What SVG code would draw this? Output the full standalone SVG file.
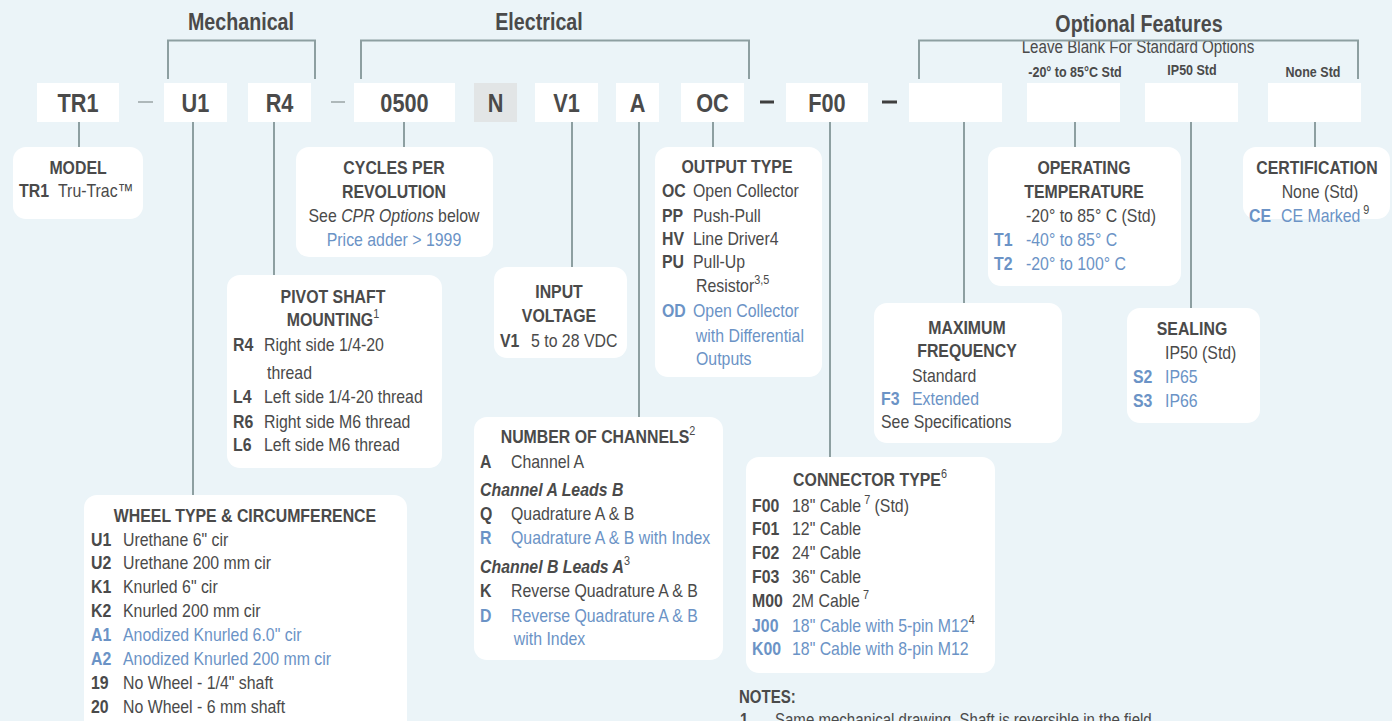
<svg xmlns="http://www.w3.org/2000/svg" width="1392" height="721" viewBox="0 0 1392 721">
<style>
text{font-family:"Liberation Sans",Arial,sans-serif;font-size:19px;fill:#4a4a4a;transform-box:fill-box;transform-origin:0% 50%;transform:scaleX(0.835)}
.b{font-weight:bold}
.m{text-anchor:middle;transform-origin:50% 50%}
.bl{fill:#6b93c6}
.i{font-style:italic}
.h{font-size:24px;font-weight:bold;transform:scaleX(0.82)}
.c{font-size:26px;font-weight:bold;text-anchor:middle;transform-origin:50% 50%}
.sm{font-size:15px;font-weight:bold;text-anchor:middle;transform-origin:50% 50%}
.sup{font-size:13px}
.code{fill:#fff}
.nd{fill:#fff}
.ln{stroke:#8d9fa1;stroke-width:2;fill:none}
</style>
<rect width="1392" height="721" fill="#ebf4f8"/>

<g id="headers">
<text class="h m" x="241" y="30">Mechanical</text>
<text class="h m" x="539" y="30">Electrical</text>
<text class="h m" x="1139" y="32">Optional Features</text>
<text class="m" x="1138" y="53" style="font-size:18.5px;transform:scaleX(0.82)">Leave Blank For Standard Options</text>
<text class="sm" x="1075" y="77">-20° to 85°C Std</text>
<text class="sm" x="1192" y="75">IP50 Std</text>
<text class="sm" x="1313" y="77">None Std</text>
</g>

<g id="connectors">
<path class="ln" d="M168,79 V40.5 H315 V79"/>
<path class="ln" d="M361,79 V40.5 H749 V79"/>
<path class="ln" d="M919,79 V40.5 H1358 V79"/>
<path class="ln" d="M79,122 V147"/>
<path class="ln" d="M193,122 V495"/>
<path class="ln" d="M274,122 V275"/>
<path class="ln" d="M404,122 V147"/>
<path class="ln" d="M572,122 V267"/>
<path class="ln" d="M639,122 V417"/>
<path class="ln" d="M713,122 V147"/>
<path class="ln" d="M830,122 V457"/>
<path class="ln" d="M964,122 V303"/>
<path class="ln" d="M1075,122 V147"/>
<path class="ln" d="M1191,122 V308"/>
<path class="ln" d="M1315,122 V147"/>
<line x1="138" y1="102" x2="153" y2="102" stroke="#aeb8ba" stroke-width="2"/>
<line x1="331" y1="102" x2="345" y2="102" stroke="#aeb8ba" stroke-width="2"/>
<line x1="760" y1="102" x2="774" y2="102" stroke="#3f3f3f" stroke-width="3"/>
<line x1="882" y1="102" x2="897" y2="102" stroke="#3f3f3f" stroke-width="3"/>
</g>

<g id="code-row">
<g id="code-TR1"><rect class="code" x="37" y="83" width="82" height="39"/><text class="c" x="78" y="112">TR1</text></g>
<g id="code-U1"><rect class="code" x="164" y="83" width="63" height="39"/><text class="c" x="195.5" y="112">U1</text></g>
<g id="code-R4"><rect class="code" x="248" y="83" width="63" height="39"/><text class="c" x="279.5" y="112">R4</text></g>
<g id="code-0500"><rect class="code" x="354" y="83" width="101" height="39"/><text class="c" x="404.5" y="112">0500</text></g>
<g id="code-N"><rect x="474" y="83" width="43" height="39" fill="#e2e5e6"/><text class="c" x="495.5" y="112">N</text></g>
<g id="code-V1"><rect class="code" x="535" y="83" width="63" height="39"/><text class="c" x="566.5" y="112">V1</text></g>
<g id="code-A"><rect class="code" x="616" y="83" width="43" height="39"/><text class="c" x="637.5" y="112">A</text></g>
<g id="code-OC"><rect class="code" x="681" y="83" width="63" height="39"/><text class="c" x="712.5" y="112">OC</text></g>
<g id="code-F00"><rect class="code" x="786" y="83" width="82" height="39"/><text class="c" x="827" y="112">F00</text></g>
<g id="code-blank1"><rect class="code" x="909" y="83" width="93" height="39"/></g>
<g id="code-blank2"><rect class="code" x="1027" y="83" width="93" height="39"/></g>
<g id="code-blank3"><rect class="code" x="1145" y="83" width="93" height="39"/></g>
<g id="code-blank4"><rect class="code" x="1268" y="83" width="93" height="39"/></g>
</g>

<g id="node-model">
<rect class="nd" x="13" y="147" width="130" height="72" rx="13"/>
<text class="b m" x="78" y="174">MODEL</text>
<text class="b" x="19" y="197">TR1</text><text x="58" y="197">Tru-Trac™</text>
</g>

<g id="node-cpr">
<rect class="nd" x="296" y="147" width="197" height="110" rx="13"/>
<text class="b m" x="394" y="174">CYCLES PER</text>
<text class="b m" x="394" y="198">REVOLUTION</text>
<text class="m" x="394" y="222">See <tspan class="i">CPR Options</tspan> below</text>
<text class="m bl" x="394" y="246">Price adder &gt; 1999</text>
</g>

<g id="node-pivot">
<rect class="nd" x="227" y="275" width="215" height="193" rx="13"/>
<text class="b m" x="333" y="303">PIVOT SHAFT</text>
<text class="b m" x="333" y="326">MOUNTING<tspan class="sup" dy="-8" style="font-weight:normal">1</tspan></text>
<text class="b" x="233" y="351">R4</text><text x="264" y="351">Right side 1/4-20</text>
<text x="267" y="379">thread</text>
<text class="b" x="233" y="403">L4</text><text x="264" y="403">Left side 1/4-20 thread</text>
<text class="b" x="233" y="428">R6</text><text x="264" y="428">Right side M6 thread</text>
<text class="b" x="233" y="451">L6</text><text x="264" y="451">Left side M6 thread</text>
</g>

<g id="node-input">
<rect class="nd" x="494" y="267" width="133" height="91" rx="13"/>
<text class="b m" x="559" y="298">INPUT</text>
<text class="b m" x="559" y="322">VOLTAGE</text>
<text class="b" x="500" y="347">V1</text><text x="531" y="347">5 to 28 VDC</text>
</g>

<g id="node-output">
<rect class="nd" x="655" y="147" width="167" height="230" rx="13"/>
<text class="b m" x="737" y="173">OUTPUT TYPE</text>
<text class="b" x="662" y="197">OC</text><text x="693" y="197">Open Collector</text>
<text class="b" x="662" y="222">PP</text><text x="693" y="222">Push-Pull</text>
<text class="b" x="662" y="245">HV</text><text x="693" y="245">Line Driver4</text>
<text class="b" x="662" y="268">PU</text><text x="693" y="268">Pull-Up</text>
<text x="696" y="292">Resistor<tspan class="sup" dy="-8">3,5</tspan></text>
<text class="b bl" x="662" y="317">OD</text><text class="bl" x="693" y="317">Open Collector</text>
<text class="bl" x="696" y="342">with Differential</text>
<text class="bl" x="696" y="365">Outputs</text>
</g>

<g id="node-channels">
<rect class="nd" x="474" y="417" width="249" height="243" rx="13"/>
<text class="b m" x="598" y="443">NUMBER OF CHANNELS<tspan class="sup" dy="-8" style="font-weight:normal">2</tspan></text>
<text class="b" x="480" y="468">A</text><text x="511" y="468">Channel A</text>
<text class="b i" x="480" y="496">Channel A Leads B</text>
<text class="b" x="480" y="520">Q</text><text x="511" y="520">Quadrature A &amp; B</text>
<text class="b bl" x="480" y="544">R</text><text class="bl" x="511" y="544">Quadrature A &amp; B with Index</text>
<text class="b i" x="480" y="573">Channel B Leads A<tspan class="sup" dy="-8" style="font-weight:normal;font-style:normal">3</tspan></text>
<text class="b" x="480" y="597">K</text><text x="511" y="597">Reverse Quadrature A &amp; B</text>
<text class="b bl" x="480" y="622">D</text><text class="bl" x="511" y="622">Reverse Quadrature A &amp; B</text>
<text class="bl" x="514" y="645">with Index</text>
</g>

<g id="node-connector">
<rect class="nd" x="746" y="457" width="249" height="216" rx="13"/>
<text class="b m" x="870" y="486">CONNECTOR TYPE<tspan class="sup" dy="-8" style="font-weight:normal">6</tspan></text>
<text class="b" x="752" y="512">F00</text><text x="792" y="512">18" Cable<tspan class="sup" dy="-8"> 7</tspan><tspan dy="8">  (Std)</tspan></text>
<text class="b" x="752" y="535">F01</text><text x="792" y="535">12" Cable</text>
<text class="b" x="752" y="559">F02</text><text x="792" y="559">24" Cable</text>
<text class="b" x="752" y="583">F03</text><text x="792" y="583">36" Cable</text>
<text class="b" x="752" y="607">M00</text><text x="792" y="607">2M Cable<tspan class="sup" dy="-8"> 7</tspan></text>
<text class="b bl" x="752" y="632">J00</text><text class="bl" x="792" y="632">18" Cable with 5-pin M12<tspan class="sup" dy="-8" style="fill:#4a4a4a">4</tspan></text>
<text class="b bl" x="752" y="655">K00</text><text class="bl" x="792" y="655">18" Cable with 8-pin M12</text>
</g>

<g id="notes">
<text class="b" x="739" y="703" style="font-size:18px">NOTES:</text>
<text class="b" x="740" y="726" style="font-size:18px">1</text>
<text x="775" y="726" style="font-size:18px">Same mechanical drawing. Shaft is reversible in the field.</text>
</g>

<g id="node-frequency">
<rect class="nd" x="874" y="303" width="188" height="140" rx="13"/>
<text class="b m" x="967" y="334">MAXIMUM</text>
<text class="b m" x="967" y="357">FREQUENCY</text>
<text x="912" y="382">Standard</text>
<text class="b bl" x="881" y="405">F3</text><text class="bl" x="912" y="405">Extended</text>
<text x="881" y="428">See Specifications</text>
</g>

<g id="node-temperature">
<rect class="nd" x="988" y="147" width="193" height="139" rx="13"/>
<text class="b m" x="1084" y="174">OPERATING</text>
<text class="b m" x="1084" y="198">TEMPERATURE</text>
<text x="1026" y="222">-20° to 85° C (Std)</text>
<text class="b bl" x="994" y="246">T1</text><text class="bl" x="1026" y="246">-40° to 85° C</text>
<text class="b bl" x="994" y="270">T2</text><text class="bl" x="1026" y="270">-20° to 100° C</text>
</g>

<g id="node-sealing">
<rect class="nd" x="1127" y="308" width="133" height="115" rx="13"/>
<text class="b m" x="1192" y="335">SEALING</text>
<text x="1165" y="359">IP50 (Std)</text>
<text class="b bl" x="1133" y="383">S2</text><text class="bl" x="1165" y="383">IP65</text>
<text class="b bl" x="1133" y="407">S3</text><text class="bl" x="1165" y="407">IP66</text>
</g>

<g id="node-certification">
<rect class="nd" x="1243" y="147" width="147" height="72" rx="13"/>
<text class="b m" x="1317" y="174">CERTIFICATION</text>
<text class="m" x="1320" y="198">None (Std)</text>
<text class="b bl" x="1249" y="222">CE</text><text class="bl" x="1281" y="222">CE Marked<tspan class="sup" dy="-8" style="fill:#4a4a4a"> 9</tspan></text>
</g>

<g id="node-wheel">
<rect class="nd" x="84" y="495" width="323" height="250" rx="13"/>
<text class="b m" x="245" y="522">WHEEL TYPE &amp; CIRCUMFERENCE</text>
<text class="b" x="91" y="546">U1</text><text x="123" y="546">Urethane 6" cir</text>
<text class="b" x="91" y="569">U2</text><text x="123" y="569">Urethane 200 mm cir</text>
<text class="b" x="91" y="593">K1</text><text x="123" y="593">Knurled 6" cir</text>
<text class="b" x="91" y="617">K2</text><text x="123" y="617">Knurled 200 mm cir</text>
<text class="b bl" x="91" y="641">A1</text><text class="bl" x="123" y="641">Anodized Knurled 6.0" cir</text>
<text class="b bl" x="91" y="665">A2</text><text class="bl" x="123" y="665">Anodized Knurled 200 mm cir</text>
<text class="b" x="91" y="689">19</text><text x="123" y="689">No Wheel - 1/4" shaft</text>
<text class="b" x="91" y="713">20</text><text x="123" y="713">No Wheel - 6 mm shaft</text>
</g>
</svg>
